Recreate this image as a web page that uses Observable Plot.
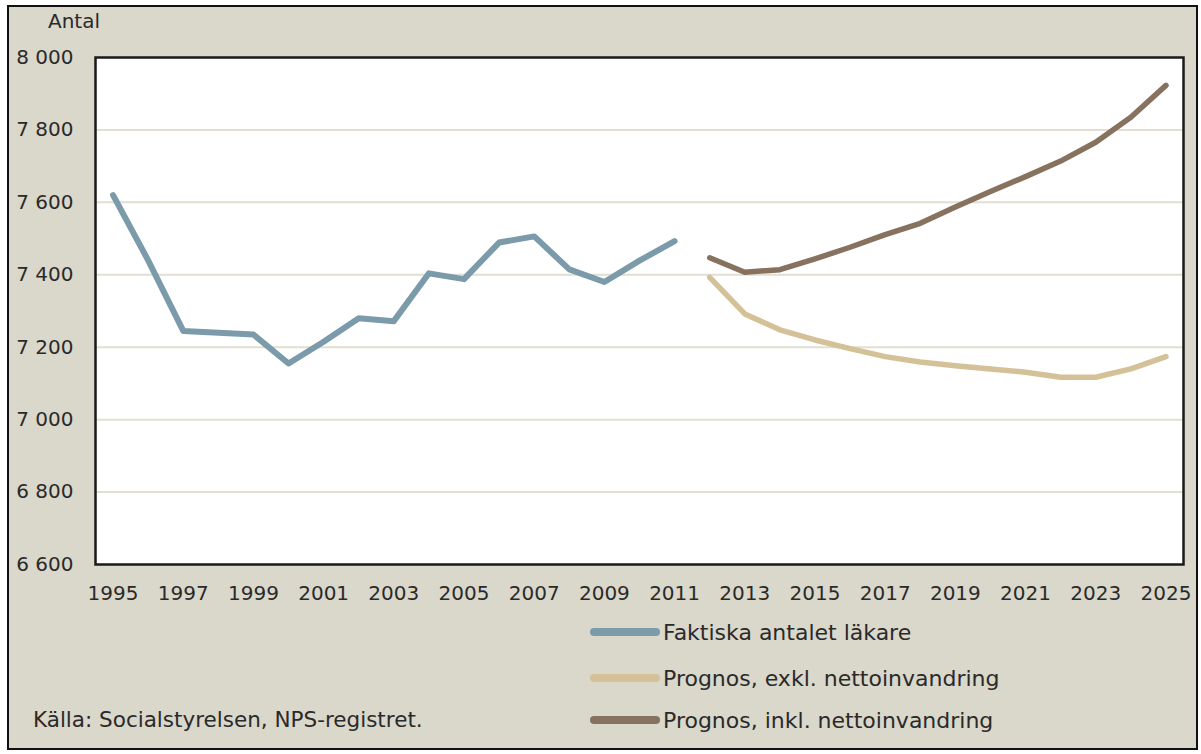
<!DOCTYPE html>
<html><head><meta charset="utf-8">
<script src="https://cdn.jsdelivr.net/npm/d3@7"></script>
<script src="https://cdn.jsdelivr.net/npm/@observablehq/plot@0.6"></script>
<style>
body{margin:0;background:#fff;font-family:"DejaVu Sans",sans-serif;}
#wrap{position:relative;width:1201px;height:754px;overflow:hidden;}
#panel{position:absolute;left:7px;top:5px;width:1187px;height:741px;border:2px solid #111;background:#dad7cb;}
#chart{position:absolute;left:0;top:0;}
.lab{position:absolute;font-size:20px;color:#2a2a2a;white-space:nowrap;line-height:20px;}
.row{position:absolute;display:flex;align-items:center;height:22px;font-size:22px;color:#2a2a2a;white-space:nowrap;}
.sw{width:70px;height:8px;border-radius:4px;margin-right:3px;}
</style></head>
<body>
<div id="wrap">
  <div id="panel"></div>
  <div id="chart"></div>
  <div class="lab" style="left:48px;top:11px;">Antal</div>
  <div class="lab" style="left:33px;top:709px;font-size:21.5px;line-height:22px;">Källa: Socialstyrelsen, NPS-registret.</div>
  <div id="legend"></div>
</div>
<script>
// Data
const yearsActual = [1995,1996,1997,1998,1999,2000,2001,2002,2003,2004,2005,2006,2007,2008,2009,2010,2011];
const actual = [7620,7440,7245,7240,7235,7155,7215,7280,7272,7404,7388,7489,7506,7415,7380,7439,7493];
const yearsForecast = [2012,2013,2014,2015,2016,2017,2018,2019,2020,2021,2022,2023,2024,2025];
const forecastExkl = [7393,7292,7248,7220,7196,7174,7159,7149,7140,7131,7117,7117,7140,7174];
const forecastInkl = [7447,7407,7414,7444,7476,7511,7542,7587,7630,7671,7714,7766,7835,7923];
const xTicks = [1995,1997,1999,2001,2003,2005,2007,2009,2011,2013,2015,2017,2019,2021,2023,2025];
const yTicks = [6600,6800,7000,7200,7400,7600,7800,8000];
const seriesNames = ["Faktiska antalet läkare","Prognos, exkl. nettoinvandring","Prognos, inkl. nettoinvandring"];
const seriesColors = ["#7b9bab","#d5c197","#87725f"];

const toRows = (xs, vs) => xs.map((x, i) => ({year: x, value: vs[i]}));
const dActual = toRows(yearsActual, actual);
const dExkl = toRows(yearsForecast, forecastExkl);
const dInkl = toRows(yearsForecast, forecastInkl);

const fmt = d => d3.format(",")(d).replace(",", " ");

const chart = Plot.plot({
  width: 1201, height: 610,
  marginLeft: 95, marginRight: 18, marginTop: 57, marginBottom: 46,
  style: {background: "transparent", fontFamily: "DejaVu Sans", fontSize: "20px", color: "#2a2a2a", overflow: "visible"},
  x: {domain: [1994.5, 2025.5], ticks: xTicks, tickFormat: d => String(d), tickSize: 0, tickPadding: 21, label: null},
  y: {domain: [6600, 8000], ticks: yTicks, tickFormat: fmt, tickSize: 0, tickPadding: 22, label: null},
  marks: [
    Plot.frame({fill: "white"}),
    Plot.ruleY(yTicks.slice(1, -1), {stroke: "#e2ded2", strokeWidth: 2}),
    Plot.line(dActual, {x: "year", y: "value", stroke: seriesColors[0], strokeWidth: 6, strokeLinejoin: "round", strokeLinecap: "round"}),
    Plot.line(dExkl, {x: "year", y: "value", stroke: seriesColors[1], strokeWidth: 5.5, strokeLinejoin: "round", strokeLinecap: "round"}),
    Plot.line(dInkl, {x: "year", y: "value", stroke: seriesColors[2], strokeWidth: 5.5, strokeLinejoin: "round", strokeLinecap: "round"}),
    Plot.frame({stroke: "#1a1a1a", strokeWidth: 2.5})
  ]
});
document.getElementById("chart").appendChild(chart);

const legendTops = [621, 667, 709];
const legend = document.getElementById("legend");
seriesNames.forEach((name, i) => {
  const row = document.createElement("div");
  row.className = "row";
  row.style.left = "590px";
  row.style.top = legendTops[i] + "px";
  const sw = document.createElement("div");
  sw.className = "sw";
  sw.style.background = seriesColors[i];
  const t = document.createElement("span");
  t.textContent = name;
  row.appendChild(sw);
  row.appendChild(t);
  legend.appendChild(row);
});
</script>
</body></html>
